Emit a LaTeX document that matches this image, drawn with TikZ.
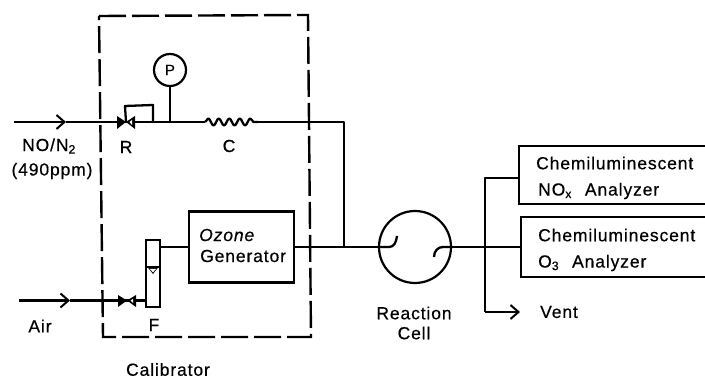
\documentclass[tikz,border=0pt]{standalone}
\usepackage{fontspec}
\setmainfont{Liberation Sans}[LetterSpace=5,FakeBold=0.5]
\usetikzlibrary{arrows.meta,decorations.pathmorphing}
\tikzset{
  pipe/.style={line width=2.3pt,line join=round},
  flow/.style={pipe,-{Straight Barb[length=8pt,width=14pt,line width=2pt]}},
  dashbox/.style={line width=2.4pt,dash pattern=on 27pt off 6pt},
  unit/.style={draw=none,inner sep=0pt,minimum width=0pt},
  lbl/.style={inner sep=0pt,font=\fontsize{17.5}{18}\selectfont},
  lblw/.style={lbl,anchor=west},
  valveshape/.style={line width=1.6pt,fill=black,line join=round},
}
\begin{document}
\begin{tikzpicture}[x=1pt,y=-1pt]
\useasboundingbox (0,0) rectangle (705,379);
% calibrator frame
\draw[dashbox] (99,16) -- (308,15) -- (311,337) -- (103,337) -- cycle;
% coordinates
\coordinate (noin) at (14,122);
\coordinate (noarrow) at (66,122);
\coordinate (valveR) at (126,122);
\coordinate (loopA) at (125,106);
\coordinate (loopB) at (153,105);
\coordinate (loopEnd) at (153,121);
\coordinate (stem) at (170,121);
\coordinate (coilA) at (205,122);
\coordinate (coilB) at (258,122);
\coordinate (joinTop) at (344,122);
\coordinate (joinBot) at (344,247);
\coordinate (airin) at (19,300.5);
\coordinate (airarrow) at (70,300.5);
\coordinate (valveF) at (127,300.5);
\coordinate (split) at (485,247);
\coordinate (up) at (485,178);
\coordinate (down) at (485,312);
\coordinate (ventEnd) at (520,312);
% nodes
\node[draw,circle,line width=2.2pt,minimum size=32pt,inner sep=0pt,font=\fontsize{15}{16}\selectfont] (P) at (170,70) {P};
\node[draw,line width=2.2pt,minimum width=105pt,minimum height=71pt,inner sep=0pt] (oz) at (241.5,247) {};
\node[draw,line width=2.4pt,minimum width=14pt,minimum height=67pt,inner sep=0pt] (F) at (153,273.5) {};
\node[draw,circle,line width=2.2pt,minimum size=72pt,inner sep=0pt] (cell) at (415,247) {};
\node[unit,minimum width=186pt,minimum height=58pt] (nox) at (612,175) {};
\node[unit,minimum width=184pt,minimum height=60pt] (o3) at (613,247) {};
% analyzer boxes, open at the right edge
\draw[line width=1.8pt] (nox.north east) -- (nox.north west) -- (nox.south west) -- (nox.south east);
\draw[line width=1.8pt] (o3.north east) -- (o3.north west) -- (o3.south west) -- (o3.south east);
% NO line
\draw[flow] (noin) -- (noarrow);
\draw[pipe] (noarrow) -- (valveR);
\draw[pipe] (valveR) -- (coilA);
\draw[pipe,decorate,decoration={snake,amplitude=3.5pt,segment length=10.5pt}] (coilA) -- (coilB);
\draw[pipe] (coilB) -- (joinTop) -- (joinBot);
\draw[pipe] (valveR) -- (loopA) -- (loopB) -- (loopEnd);
\draw[pipe] (P) -- (stem);
\path[valveshape] (117,116) -- (126,122) -- (117,129) -- cycle;
\path[valveshape] (135,116) -- (126,122) -- (135,129) -- cycle;
\fill[white] (132,120) -- (129.5,122) -- (132,125) -- cycle;
% air line
\draw[flow] (airin) -- (airarrow);
\draw[pipe] (airarrow) -- (valveF) -- (F.west |- valveF);
\path[valveshape] (118,295) -- (127,300.5) -- (118,307) -- cycle;
\path[valveshape] (136,295) -- (127,300.5) -- (136,307) -- cycle;
\fill[white] (133,299) -- (130.5,300.5) -- (133,303) -- cycle;
% flowmeter float
\draw[line width=1.6pt] (F.west |- 0,267) -- (F.east |- 0,267);
\fill (147.5,267) -- (158.5,267) -- (153,274) -- cycle;
\fill[white] (150,269) -- (156,269) -- (153,272.5) -- cycle;
% ozone to cell
\draw[pipe] (F.east |- oz.west) -- (oz.west);
\draw[pipe] (oz.east) -- (joinBot) -- (cell.west);
% cell hooks
\draw[pipe] (cell.west) -- (389,247) .. controls (394,247) and (396,243) .. (397,236);
\draw[pipe] (cell.east) -- (443,247) .. controls (438,247) and (434,251) .. (434,257);
% outlets
\draw[pipe] (cell.east) -- (split) -- (o3.west);
\draw[pipe] (nox.west |- up) -- (up) -- (split) -- (down);
\draw[flow] (down) -- (ventEnd);
% labels
\node[lbl] (l1) at (49,146) {NO/N\textsubscript{2}};
\node[lbl] (l2) at (52,171) {(490ppm)};
\node[lbl] (l3) at (126,147) {R};
\node[lbl] (l4) at (229,146) {C};
\node[lbl] (l5) at (40,326) {Air};
\node[lbl] (l6) at (154,325) {F};
\node[lblw] (l7) at (199,235) {\itshape Ozone};
\node[lblw] (l8) at (200,256) {Generator};
\node[lbl] (l9) at (168,369.5) {Calibrator};
\node[lbl] (l10) at (414,313) {Reaction};
\node[lbl] (l11) at (414,333) {Cell};
\node[lblw] (l12) at (536,163) {Chemiluminescent};
\node[lblw] (l13) at (538,191) {NO\textsubscript{x}\hspace{13pt}Analyzer};
\node[lblw] (l14) at (538,235) {Chemiluminescent};
\node[lblw] (l15) at (538,263) {O\textsubscript{3}\hspace{13pt}Analyzer};
\node[lblw] (l16) at (540,312) {Vent};
\end{tikzpicture}
\end{document}
